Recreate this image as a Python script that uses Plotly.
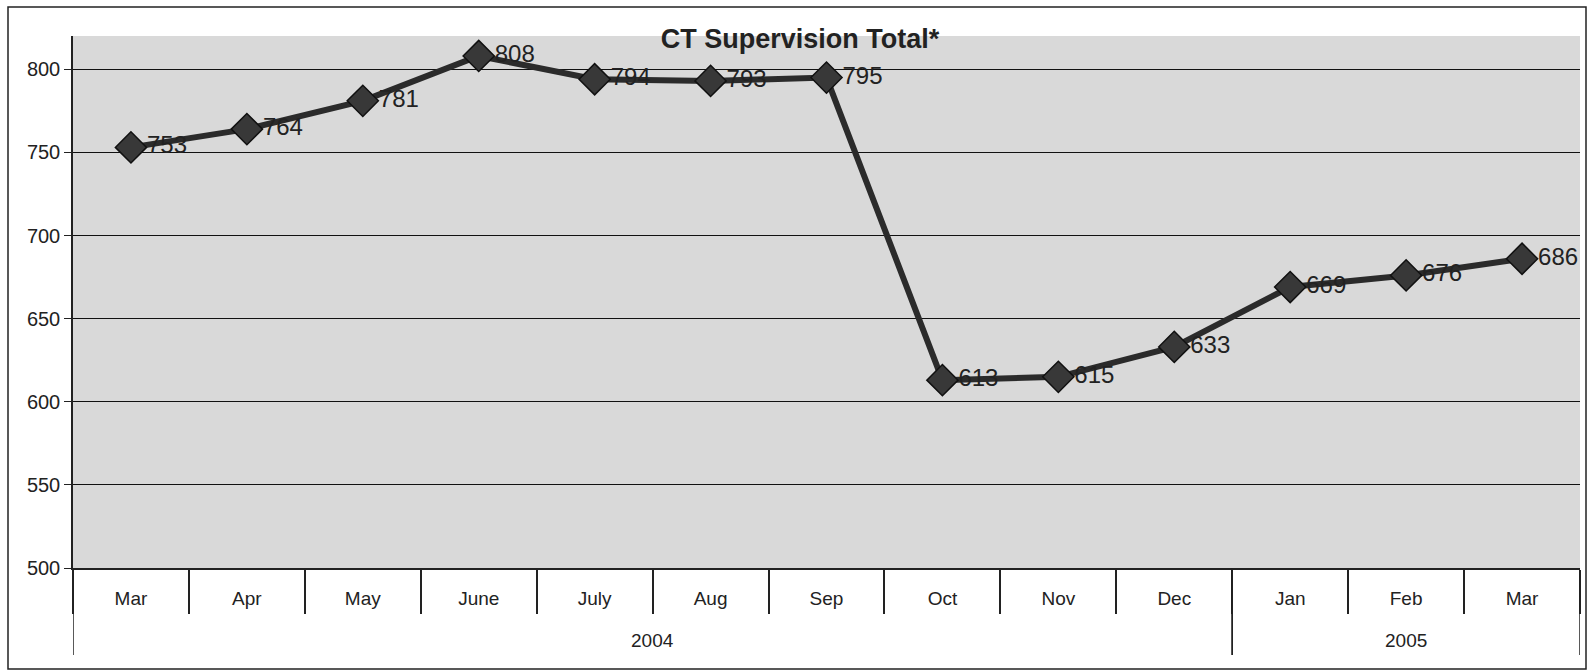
import plotly.graph_objects as go

months = ["Mar", "Apr", "May", "June", "July", "Aug", "Sep", "Oct", "Nov", "Dec", "Jan", "Feb", "Mar"]
years = ["2004"] * 10 + ["2005"] * 3
totals = [753, 764, 781, 808, 794, 793, 795, 613, 615, 633, 669, 676, 686]
title_text = "CT Supervision Total*"

FONT = "Liberation Sans, Arial, sans-serif"
INK = "#222222"

idx = list(range(len(months)))

fig = go.Figure()
fig.add_trace(go.Scatter(
    x=idx,
    y=totals,
    mode="lines+markers+text",
    text=[str(v) for v in totals],
    textposition="middle right",
    textfont=dict(family=FONT, size=24, color=INK),
    line=dict(color="#2b2b2b", width=6),
    marker=dict(symbol="diamond", size=24, color="#383838",
                line=dict(color="#111111", width=1.5)),
    cliponaxis=False,
    showlegend=False,
))

L, R, T, B = 73, 9, 36, 103
W, H = 1589, 671
pw, ph = W - L - R, H - T - B

# year groups -> annotation + divider positions
groups = []
for i, y in enumerate(years):
    if not groups or groups[-1][0] != y:
        groups.append([y, i, i])
    else:
        groups[-1][2] = i

annotations = []
shapes = []
for y, a, b in groups:
    annotations.append(dict(
        x=(a + b) / 2, xref="x", y=-(640 - (H - B)) / ph, yref="paper",
        text=y, showarrow=False, yanchor="middle", xanchor="center",
        font=dict(family=FONT, size=19, color=INK),
    ))
    for xb in (a - 0.5, b + 0.5):
        shapes.append(dict(
            type="line", xref="x", yref="paper",
            x0=xb, x1=xb, y0=0, y1=-(655 - (H - B)) / ph,
            line=dict(color=INK, width=1.5),
        ))

shapes.append(dict(
    type="rect", xref="paper", yref="paper",
    x0=(8 - L) / pw, x1=(1586 - L) / pw,
    y0=(H - B - 669) / ph, y1=(H - B - 7) / ph,
    line=dict(color=INK, width=1.5), fillcolor="rgba(0,0,0,0)",
))

fig.update_layout(
    width=W, height=H,
    margin=dict(l=L, r=R, t=T, b=B, autoexpand=False),
    paper_bgcolor="white",
    plot_bgcolor="#d9d9d9",
    font=dict(family=FONT, size=18, color=INK),
    title=dict(text="<b>" + title_text + "</b>", x=800 / W, xanchor="center",
               y=1 - 39 / H, yanchor="middle",
               font=dict(family=FONT, size=27, color=INK)),
    xaxis=dict(
        range=[-0.5, len(months) - 0.5],
        tickmode="array", tickvals=idx, ticktext=months,
        ticks="", showgrid=False, zeroline=False,
        showline=True, linecolor=INK, linewidth=1.5,
        ticklabelstandoff=12,
        tickfont=dict(family=FONT, size=19, color=INK),
        minor=dict(tickmode="array", tickvals=[i - 0.5 for i in range(len(months) + 1)],
                   ticks="outside", ticklen=44, tickcolor=INK, tickwidth=1.5, showgrid=False),
        automargin=False,
    ),
    yaxis=dict(
        range=[500, 820],
        tickvals=[500, 550, 600, 650, 700, 750, 800],
        showgrid=True, gridcolor="#111111", gridwidth=1,
        showline=True, linecolor=INK, linewidth=1.5,
        ticks="outside", ticklen=7, tickcolor=INK,
        tickfont=dict(family=FONT, size=20, color=INK),
        zeroline=False, automargin=False,
    ),
    annotations=annotations,
    shapes=shapes,
)

fig.write_html("out.html",
               config={"displayModeBar": False},
               post_script="document.body.style.margin='0';document.body.style.overflow='hidden';")
